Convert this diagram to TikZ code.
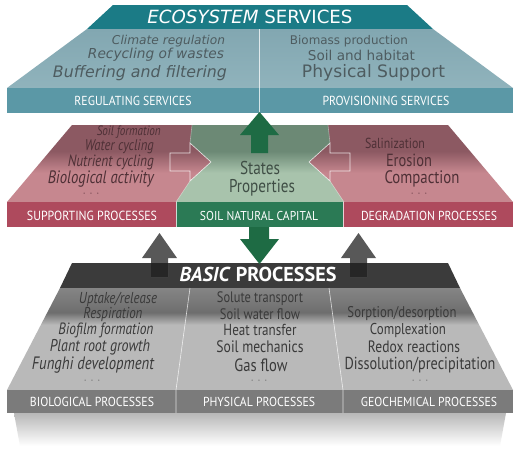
\documentclass[tikz,border=0pt]{standalone}
\usepackage{fontspec}
\setmainfont{PT Sans}
\newfontfamily\dv{DejaVu Sans}
\newfontfamily\cnd[FakeStretch=0.82]{PT Sans}
\newfontfamily\cndl[FakeStretch=0.9]{PT Sans}
\usepackage{graphicx}
\definecolor{tealD}{HTML}{1B7B86}
\definecolor{tealL}{HTML}{90B3BC}
\definecolor{tealT}{HTML}{82A7B1}
\definecolor{tealB}{HTML}{5B98A6}
\definecolor{tealTxt}{HTML}{4E5C60}
\definecolor{pinkD}{HTML}{8C5962}
\definecolor{pinkL}{HTML}{C6878F}
\definecolor{pinkB}{HTML}{AE4A5D}
\definecolor{pinkTxt}{HTML}{4E3036}
\definecolor{greenD}{HTML}{6C8975}
\definecolor{greenL}{HTML}{A8C3AC}
\definecolor{greenB}{HTML}{2B7A55}
\definecolor{greenA}{HTML}{1E6B44}
\definecolor{greenTxt}{HTML}{3F4E45}
\definecolor{grayK}{HTML}{3B3B3B}
\definecolor{grayD}{HTML}{858585}
\definecolor{grayS}{HTML}{6E6E6E}
\definecolor{grayL}{HTML}{B9B9B9}
\definecolor{grayB}{HTML}{7B7B7B}
\definecolor{grayA}{HTML}{585858}
\definecolor{grayTxt}{HTML}{3A3A3A}
\pgfdeclareverticalshading{pinksh}{100bp}{color(0bp)=(pinkL); color(44bp)=(pinkL); color(58bp)=(pinkD); color(100bp)=(pinkD)}
\pgfdeclareverticalshading{greensh}{100bp}{color(0bp)=(greenL); color(44bp)=(greenL); color(58bp)=(greenD); color(100bp)=(greenD)}
\pgfdeclareverticalshading{graysh}{100bp}{color(0bp)=(grayL); color(57bp)=(grayL); color(63bp)=(grayS); color(75bp)=(grayD); color(100bp)=(grayD)}
\pgfdeclareverticalshading{shadowsh}{100bp}{color(0bp)=(white); color(25bp)=(white); color(75bp)=(black!28); color(100bp)=(black!28)}
\newcommand\W[2]{\resizebox{#1pt}{!}{#2}}
\begin{document}
\begin{tikzpicture}[x=1pt,y=-1pt,
  lbl/.style={text=white,inner sep=0pt},
  txt/.style={inner sep=0pt},
  divline/.style={white,line width=0.6pt,opacity=0.75}]
\useasboundingbox (0,0) rectangle (520,453);
\fill[white] (0,0) rectangle (520,453);
% ---------- top tier ----------
\fill[tealD] (113,5) -- (407,5) -- (433,29) -- (87,29) -- cycle;
\shade[top color=tealT,bottom color=tealL] (87,29) -- (433,29) -- (513,88) -- (7,88) -- cycle;
\fill[tealB] (7,88) rectangle (513,113);
\draw[divline] (259,29) -- (259,113);
\node[lbl] (es) at (250,17) {\W{205}{\dv\textit{ECOSYSTEM} SERVICES}};
\node[txt,text=tealTxt] (t1) at (168.5,41) {\W{113}{\dv\itshape Climate regulation}};
\node[txt,text=tealTxt] (t2) at (156,55) {\W{136}{\dv\itshape Recycling of wastes}};
\node[txt,text=tealTxt] (t3) at (140,73) {\W{174}{\dv\itshape Buffering and filtering}};
\node[txt,text=tealTxt] (t4) at (349,41) {\W{118}{\dv Biomass production}};
\node[txt,text=tealTxt] (t5) at (361.5,55) {\W{107}{\dv Soil and habitat}};
\node[txt,text=tealTxt] (t6) at (373.5,73) {\W{143}{\dv Physical Support}};
\node[lbl] (rs) at (133,101) {\W{117}{\cndl REGULATING SERVICES}};
\node[lbl] (ps) at (386,101) {\W{127}{\cndl PROVISIONING SERVICES}};
% ---------- middle tier ----------
\shade[shading=pinksh] (72,125) -- (448,125) -- (513,202) -- (7,202) -- cycle;
\shade[shading=greensh] (192,125) -- (328,125) -- (330,143) -- (309,162) -- (330,181) -- (344,202)
  -- (176,202) -- (190,181) -- (211,162) -- (190,143) -- cycle;
\draw[white,line width=0.6pt,opacity=0.8] (170,171) -- (170,153) -- (190,153) -- (190,143) -- (211,162) -- (190,181) -- (190,171) -- cycle;
\draw[white,line width=0.6pt,opacity=0.8] (350,171) -- (350,153) -- (330,153) -- (330,143) -- (309,162) -- (330,181) -- (330,171) -- cycle;
\draw[divline,opacity=0.4] (192,125) -- (190,143) (190,181) -- (176,202);
\draw[divline,opacity=0.4] (328,125) -- (330,143) (330,181) -- (344,202);
\fill[pinkB] (7,202) rectangle (176,227);
\fill[greenB] (176,202) rectangle (343,227);
\fill[pinkB] (343,202) rectangle (513,227);
\draw[divline] (176,202) -- (176,227) (343,202) -- (343,227);
% green up arrow
\fill[greenA] (251,153) -- (251,135) -- (240,135) -- (259.5,112) -- (279,135) -- (268,135) -- (268,153) -- cycle;
\node[txt,text=pinkTxt,anchor=east] (m1) at (161,132) {\W{64}{\cnd\itshape Soil formation}};
\node[txt,text=pinkTxt,anchor=east] (m2) at (154,147) {\W{69}{\cnd\itshape Water cycling}};
\node[txt,text=pinkTxt,anchor=east] (m3) at (154,162.5) {\W{86}{\cnd\itshape Nutrient cycling}};
\node[txt,text=pinkTxt,anchor=east] (m4) at (154,179.5) {\W{106}{\cnd\itshape Biological activity}};
\node[txt,text=pinkD] (m5) at (91,195) {\W{17}{· · ·}};
\node[txt,text=pinkTxt] (d1) at (395,143) {\W{60}{\cnd Salinization}};
\node[txt,text=pinkTxt] (d2) at (409,160) {\W{46}{\cnd Erosion}};
\node[txt,text=pinkTxt] (d3) at (422,179) {\W{75}{\cnd Compaction}};
\node[txt,text=pinkD] (d4) at (419,195) {\W{17}{· · ·}};
\node[txt,text=greenTxt] (c1) at (260,168) {\W{40}{\cnd States}};
\node[txt,text=greenTxt] (c2) at (262,188) {\W{66}{\cnd Properties}};
\node[lbl] (sp) at (92,216) {\W{130}{\cndl SUPPORTING PROCESSES}};
\node[lbl] (snc) at (259,216) {\W{118}{\cndl SOIL NATURAL CAPITAL}};
\node[lbl] (dp) at (429,216) {\W{136}{\cndl DEGRADATION PROCESSES}};
% ---------- bottom tier ----------
\shade[shading=shadowsh] (14,413) -- (506,413) -- (500,446) -- (20,446) -- cycle;
\fill[grayK] (72,263) -- (448,263) -- (460,288) -- (60,288) -- cycle;
\shade[shading=graysh] (60,288) -- (460,288) -- (513,390) -- (7,390) -- cycle;
\fill[grayB] (7,390) rectangle (513,413);
\draw[divline] (176,413) -- (176,390) -- (190,288);
\draw[divline] (343,413) -- (343,390) -- (329,288);
% gray arrows
\fill[grayA] (151,277) -- (151,258) -- (142,258) -- (159.5,233) -- (177,258) -- (168,258) -- (168,277) -- cycle;
\fill[grayA] (350,277) -- (350,258) -- (341,258) -- (358.5,233) -- (376,258) -- (367,258) -- (367,277) -- cycle;
\fill[black!85] (151,263) rectangle (168,277);
\fill[black!85] (350,263) rectangle (367,277);
% green down arrow
\fill[greenA] (249,227) -- (249,239) -- (240,239) -- (259.5,264) -- (279,239) -- (269,239) -- (269,227) -- cycle;
\node[lbl] (bp) at (258,274) {\W{157}{\bfseries\textit{BASIC} PROCESSES}};
\node[txt,text=grayTxt] (b1) at (118,299) {\W{78}{\cnd\itshape Uptake/release}};
\node[txt,text=grayTxt] (b2) at (113,314) {\W{59}{\cnd\itshape Respiration}};
\node[txt,text=grayTxt] (b3) at (106,330) {\W{95}{\cnd\itshape Biofilm formation}};
\node[txt,text=grayTxt] (b4) at (100,347) {\W{100}{\cnd\itshape Plant root growth}};
\node[txt,text=grayTxt] (b5) at (93,365) {\W{122}{\cnd\itshape Funghi development}};
\node[txt,text=grayD] (b6) at (92,382) {\W{17}{· · ·}};
\node[txt,text=grayTxt] (p1) at (260,299) {\W{86}{\cnd Solute transport}};
\node[txt,text=grayTxt] (p2) at (260,314) {\W{80}{\cnd Soil water flow}};
\node[txt,text=grayTxt] (p3) at (260,330) {\W{73}{\cnd Heat transfer}};
\node[txt,text=grayTxt] (p4) at (260,347) {\W{87}{\cnd Soil mechanics}};
\node[txt,text=grayTxt] (p5) at (261,365) {\W{53}{\cnd Gas flow}};
\node[txt,text=grayD] (p6) at (259,382) {\W{17}{· · ·}};
\node[txt,text=grayTxt] (g1) at (402,314) {\W{109}{\cnd Sorption/desorption}};
\node[txt,text=grayTxt] (g2) at (408,330) {\W{76}{\cnd Complexation}};
\node[txt,text=grayTxt] (g3) at (414,347) {\W{92}{\cnd Redox reactions}};
\node[txt,text=grayTxt] (g4) at (420,365) {\W{151}{\cnd Dissolution/precipitation}};
\node[txt,text=grayD] (g5) at (420,382) {\W{17}{· · ·}};
\node[lbl] (bio) at (92,402) {\W{124}{\cndl BIOLOGICAL PROCESSES}};
\node[lbl] (phy) at (259,402) {\W{112}{\cndl PHYSICAL PROCESSES}};
\node[lbl] (geo) at (429,402) {\W{136}{\cndl GEOCHEMICAL PROCESSES}};
\end{tikzpicture}
\end{document}
